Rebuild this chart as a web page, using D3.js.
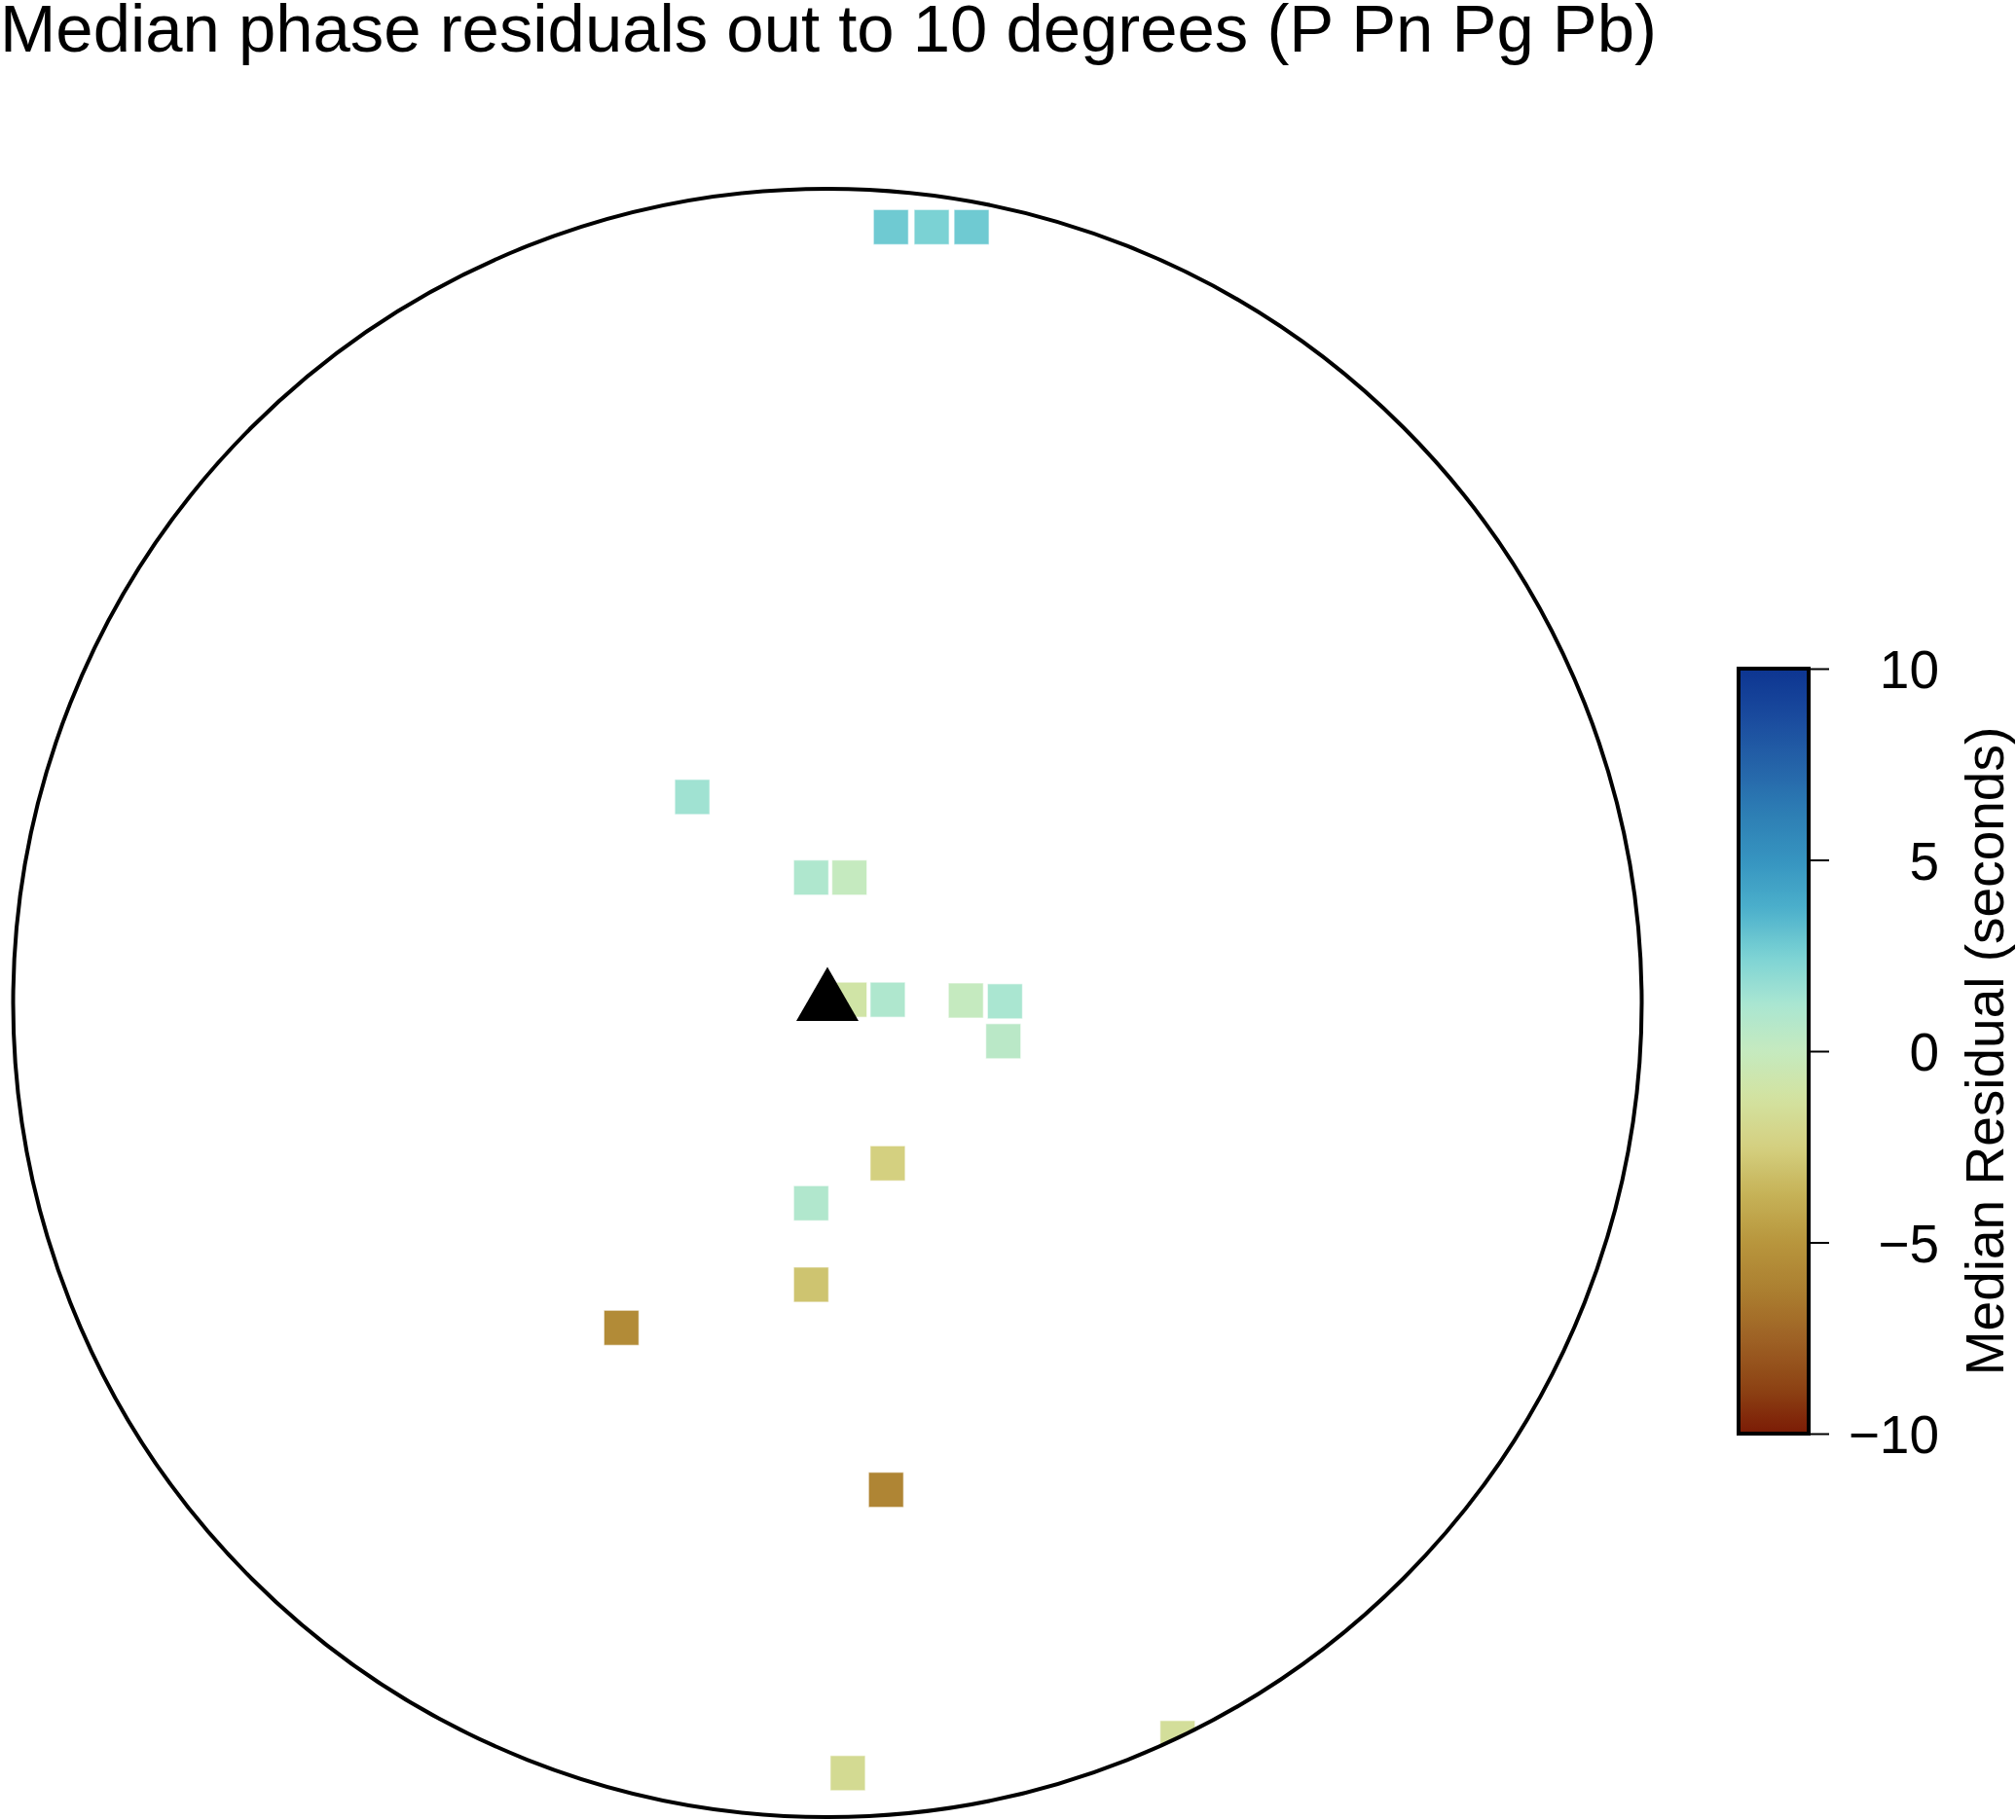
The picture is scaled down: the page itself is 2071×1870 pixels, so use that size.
<!DOCTYPE html>
<html>
<head>
<meta charset="utf-8">
<script src="https://cdn.jsdelivr.net/npm/d3@7"></script>
<style>
  html, body { margin: 0; padding: 0; background: #fff; }
  svg { display: block; font-family: "Liberation Sans", Arial, Helvetica, sans-serif; }
</style>
</head>
<body>
<svg id="chart" width="2071" height="1870"></svg>
<script>
// ---- data ----
const titleText = "Median phase residuals out to 10 degrees (P Pn Pg Pb)";
const colorbarLabel = "Median Residual (seconds)";
// projected offsets from the station (degrees east, degrees north)
const cellEast  = [0.78, 1.28, 1.77, -1.66, -0.20, 0.27, 0.27, 0.74, 1.70, 2.18, 2.16, 0.74, -0.20, -0.20, -2.53, 0.72, 0.25, 4.30];
const cellNorth = [9.53, 9.53, 9.53, 2.53, 1.54, 1.54, 0.04, 0.04, 0.03, 0.02, -0.47, -1.97, -2.46, -3.46, -3.99, -5.98, -9.46, -9.03];
const cellResidual = [2.8, 2.5, 2.8, 1.5, 1.0, 0.0, -1.0, 1.0, 0.0, 1.2, 0.5, -2.5, 0.9, -3.0, -5.6, -5.9, -1.8, -1.5];
const station = [0, 0];
const maxDistance = 10;
const colorTicks = [-10, -5, 0, 5, 10];
const paletteValues = [-10, -8.75, -7.5, -6.25, -5, -3.75, -2.5, -1.25, 0, 1.25, 2.5, 3.75, 5, 6.25, 7.5, 8.75, 10];
const paletteColors = ["#7b1b05", "#8e4515", "#9e6225", "#ac7f30", "#b8963d", "#c6b257", "#d4d080", "#d3e2a0",
                       "#c5eabf", "#a9e6d2", "#7bd2d4", "#4bafcb", "#3694c0", "#2d7db4", "#2463a8", "#1a4a9e", "#0d3591"];

// ---- layout ----
const svg = d3.select("#chart");
const cx = 850, cy = 1030.5, R = 836.5;
const x = d3.scaleLinear().domain([-maxDistance, maxDistance]).range([cx - R, cx + R]);
const y = d3.scaleLinear().domain([-maxDistance, maxDistance]).range([cy + R, cy - R]);
const color = d3.scaleLinear().domain(paletteValues).range(paletteColors).interpolate(d3.interpolateRgb).clamp(true);

// title
svg.append("text")
  .attr("x", 0).attr("y", 53)
  .attr("font-size", 69)
  .attr("textLength", 1702)
  .attr("lengthAdjust", "spacingAndGlyphs")
  .attr("fill", "#000")
  .text(titleText);

// clip to circle
svg.append("defs").append("clipPath").attr("id", "circ")
  .append("circle").attr("cx", x(0)).attr("cy", y(0)).attr("r", x(maxDistance) - x(0));

const cellSize = 36;
const cells = cellEast.map((e, i) => ({ e, n: cellNorth[i], v: cellResidual[i] }));
svg.append("g").attr("clip-path", "url(#circ)")
  .selectAll("rect").data(cells).enter().append("rect")
  .attr("x", d => x(d.e) - cellSize / 2)
  .attr("y", d => y(d.n) - cellSize / 2)
  .attr("width", cellSize).attr("height", cellSize)
  .attr("fill", d => color(d.v))
  .attr("stroke", "#ffffff").attr("stroke-opacity", 0.6).attr("stroke-width", 1.2);

// range circle
svg.append("circle")
  .attr("cx", x(0)).attr("cy", y(0)).attr("r", x(maxDistance) - x(0))
  .attr("fill", "none").attr("stroke", "#000").attr("stroke-width", 4);

// station triangle
const triSize = 64;
const sx = x(station[0]), sy = y(station[1]);
const h = triSize * Math.sqrt(3) / 2;
svg.append("path")
  .attr("d", `M${sx},${sy - 2 * h / 3}L${sx + triSize / 2},${sy + h / 3}L${sx - triSize / 2},${sy + h / 3}Z`)
  .attr("fill", "#000");

// colorbar
const cbX0 = 1786, cbX1 = 1858, cbTop = 687, cbBottom = 1473;
const cbScale = d3.scaleLinear().domain([-10, 10]).range([cbBottom, cbTop]);
const grad = svg.select("defs").append("linearGradient").attr("id", "cbgrad")
  .attr("x1", 0).attr("y1", 1).attr("x2", 0).attr("y2", 0);
d3.range(0, 101).forEach(k => {
  const v = -10 + 20 * k / 100;
  grad.append("stop").attr("offset", (k / 100)).attr("stop-color", color(v));
});
svg.append("rect")
  .attr("x", cbX0).attr("y", cbTop).attr("width", cbX1 - cbX0).attr("height", cbBottom - cbTop)
  .attr("fill", "url(#cbgrad)").attr("stroke", "#000").attr("stroke-width", 4);

const axis = d3.axisRight(cbScale).tickValues(colorTicks).tickSize(20).tickPadding(0)
  .tickFormat(d3.format("d"));
const ag = svg.append("g").attr("transform", `translate(${cbX1 + 1},0)`).call(axis);
ag.select(".domain").remove();
ag.selectAll(".tick line").attr("stroke", "#000").attr("stroke-width", 2);
ag.selectAll(".tick text")
  .attr("x", 1992 - cbX1 - 1)
  .attr("dy", "0.36em")
  .attr("text-anchor", "end")
  .attr("font-size", 55)
  .attr("font-family", "'Liberation Sans', Arial, sans-serif")
  .attr("fill", "#000");

svg.append("text")
  .attr("transform", `translate(2058,${(cbTop + cbBottom) / 2}) rotate(-90)`)
  .attr("text-anchor", "middle")
  .attr("font-size", 55)
  .attr("fill", "#000")
  .text(colorbarLabel);
</script>
</body>
</html>
